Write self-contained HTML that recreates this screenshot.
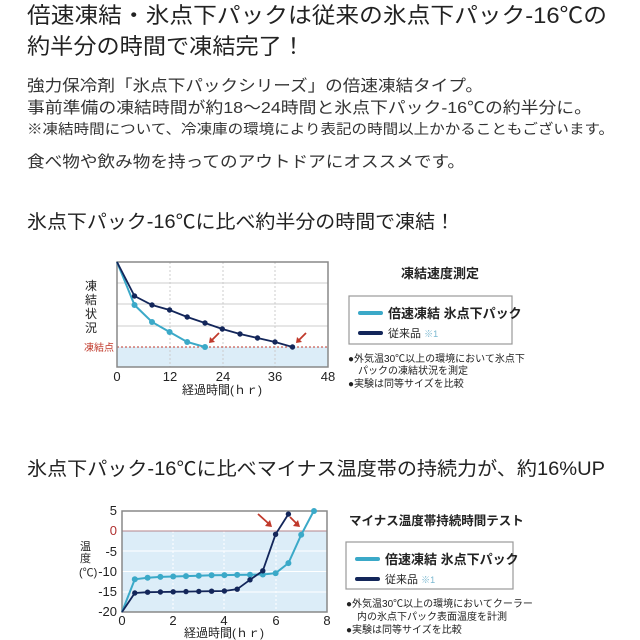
<!DOCTYPE html>
<html><head><meta charset="utf-8"><style>
html,body{margin:0;padding:0;background:#fff;}
svg{display:block;}
text{font-family:"Liberation Sans","Noto Sans CJK JP",sans-serif;}
</style></head><body>
<svg width="640" height="640" viewBox="0 0 640 640" xmlns="http://www.w3.org/2000/svg">
<g fill="#222">
<text x="27" y="23" font-size="22" textLength="580" lengthAdjust="spacingAndGlyphs">倍速凍結・氷点下パックは従来の氷点下パック-16℃の</text>
<text x="27" y="54" font-size="22" textLength="278" lengthAdjust="spacingAndGlyphs">約半分の時間で凍結完了！</text>
<g fill="#333">
<text x="27" y="91" font-size="16" textLength="456" lengthAdjust="spacingAndGlyphs">強力保冷剤「氷点下パックシリーズ」の倍速凍結タイプ。</text>
<text x="27" y="113" font-size="16" textLength="565" lengthAdjust="spacingAndGlyphs">事前準備の凍結時間が約18〜24時間と氷点下パック-16℃の約半分に。</text>
<text x="27" y="134" font-size="14" textLength="587" lengthAdjust="spacingAndGlyphs">※凍結時間について、冷凍庫の環境により表記の時間以上かかることもございます。</text>
<text x="27" y="167" font-size="16" textLength="438" lengthAdjust="spacingAndGlyphs">食べ物や飲み物を持ってのアウトドアにオススメです。</text>
</g>
<text x="27" y="228" font-size="19" textLength="428" lengthAdjust="spacingAndGlyphs">氷点下パック-16℃に比べ約半分の時間で凍結！</text>
<text x="27" y="475" font-size="19" textLength="578" lengthAdjust="spacingAndGlyphs">氷点下パック-16℃に比べマイナス温度帯の持続力が、約16%UP</text>
</g>

<!-- Chart 1 -->
<rect x="117" y="347" width="211" height="20" fill="#dcedf8"/>
<g stroke="#ccc" stroke-width="1" stroke-dasharray="2,2">
<line x1="170" y1="262" x2="170" y2="367"/><line x1="223" y1="262" x2="223" y2="367"/><line x1="275" y1="262" x2="275" y2="367"/>
</g>
<g stroke="#ccc" stroke-width="1">
<line x1="117" y1="283" x2="328" y2="283"/><line x1="117" y1="304" x2="328" y2="304"/><line x1="117" y1="326" x2="328" y2="326"/>
</g>
<line x1="117" y1="347" x2="328" y2="347" stroke="#c0392b" stroke-width="1" stroke-dasharray="2,2"/>
<rect x="117" y="262" width="211" height="105" fill="none" stroke="#888" stroke-width="1.5"/>
<polyline fill="none" stroke="#3ba9c8" stroke-width="2" points="117,262 134.5,305 152,322 169.6,332 187.2,342 205,347"/>
<g fill="#3ba9c8"><circle cx="134.5" cy="305" r="3"/><circle cx="152" cy="322" r="3"/><circle cx="169.6" cy="332" r="3"/><circle cx="187.2" cy="342" r="3"/><circle cx="205" cy="347" r="3"/></g>
<polyline fill="none" stroke="#13265a" stroke-width="1.8" points="117,262 134.5,296 152,305 169.6,310 187.2,317 205,323 222.3,329 240,334 257.5,338 275,342 292.5,347"/>
<g fill="#13265a"><circle cx="134.5" cy="296" r="2.7"/><circle cx="152" cy="305" r="2.7"/><circle cx="169.6" cy="310" r="2.7"/><circle cx="187.2" cy="317" r="2.7"/><circle cx="205" cy="323" r="2.7"/><circle cx="222.3" cy="329" r="2.7"/><circle cx="240" cy="334" r="2.7"/><circle cx="257.5" cy="338" r="2.7"/><circle cx="275" cy="342" r="2.7"/><circle cx="292.5" cy="347" r="2.7"/></g>
<g stroke="#c0392b" stroke-width="1.8" fill="#c0392b">
<line x1="219" y1="333" x2="212" y2="340"/><polygon points="209,343 210,337 215,342" stroke="none"/>
<line x1="306" y1="333" x2="299" y2="340"/><polygon points="296,343 297,337 302,342" stroke="none"/>
</g>
<g font-size="12" fill="#222">
<text x="85" y="290">凍</text><text x="85" y="304">結</text><text x="85" y="318">状</text><text x="85" y="332">況</text>
</g>
<text x="84" y="351" font-size="10" fill="#c0392b">凍結点</text>
<g font-size="13" fill="#222" text-anchor="middle">
<text x="117" y="381">0</text><text x="170" y="381">12</text><text x="223" y="381">24</text><text x="275" y="381">36</text><text x="328" y="381">48</text>
<text x="222" y="394" font-size="12">経過時間(ｈｒ)</text>
</g>
<text x="401" y="278" font-size="13" font-weight="bold" fill="#222">凍結速度測定</text>
<rect x="349" y="296" width="163" height="48" fill="#fff" stroke="#999" stroke-width="1.2"/>
<line x1="360" y1="313" x2="381" y2="313" stroke="#3ba9c8" stroke-width="4" stroke-linecap="round"/>
<text x="388" y="318" font-size="13" font-weight="bold" fill="#222">倍速凍結 氷点下パック</text>
<line x1="360" y1="333" x2="381" y2="333" stroke="#13265a" stroke-width="4" stroke-linecap="round"/>
<text x="388" y="337" font-size="11" fill="#222">従来品 <tspan fill="#7ab8d0" font-size="9">※1</tspan></text>
<g font-size="10" fill="#222">
<text x="348" y="362">●外気温30℃以上の環境において氷点下</text>
<text x="358" y="374">パックの凍結状況を測定</text>
<text x="348" y="387">●実験は同等サイズを比較</text>
</g>

<!-- Chart 2 -->
<rect x="122" y="531" width="205" height="81" fill="#dcedf8"/>
<g stroke="#fff" stroke-width="1">
<line x1="122" y1="551" x2="327" y2="551"/><line x1="122" y1="571.5" x2="327" y2="571.5"/><line x1="122" y1="592" x2="327" y2="592"/>
</g>
<g stroke="#fff" stroke-width="1" stroke-dasharray="2,2">
<line x1="173" y1="511" x2="173" y2="612"/><line x1="224" y1="511" x2="224" y2="612"/><line x1="276" y1="511" x2="276" y2="612"/>
</g>
<line x1="122" y1="531" x2="327" y2="531" stroke="#b5838a" stroke-width="1"/>
<rect x="122" y="511" width="205" height="101" fill="none" stroke="#888" stroke-width="1.5"/>
<polyline fill="none" stroke="#3ba9c8" stroke-width="2" points="122,612 134.8,579.3 147.6,577.7 160.4,576.9 173.2,576.5 186,576.1 198.8,575.7 211.6,575.3 224.4,575.1 237.2,574.9 250,574.7 262.8,574.5 275.6,573.2 288.4,563.1 301.2,534.8 314,510.5"/>
<g fill="#3ba9c8"><circle cx="134.8" cy="579.3" r="3"/><circle cx="147.6" cy="577.7" r="3"/><circle cx="160.4" cy="576.9" r="3"/><circle cx="173.2" cy="576.5" r="3"/><circle cx="186" cy="576.1" r="3"/><circle cx="198.8" cy="575.7" r="3"/><circle cx="211.6" cy="575.3" r="3"/><circle cx="224.4" cy="575.1" r="3"/><circle cx="237.2" cy="574.9" r="3"/><circle cx="250" cy="574.7" r="3"/><circle cx="262.8" cy="574.5" r="3"/><circle cx="275.6" cy="573.2" r="3"/><circle cx="288.4" cy="563.1" r="3"/><circle cx="301.2" cy="534.8" r="3"/><circle cx="314" cy="511" r="3"/></g>
<polyline fill="none" stroke="#13265a" stroke-width="1.8" points="122,612 134.8,593 147.6,592.2 160.4,592 173.2,591.8 186,591.6 198.8,591.4 211.6,591.2 224.4,591 237.2,589.2 250,579.8 262.8,570.8 275.6,534.3 288.4,514.1"/>
<g fill="#13265a"><circle cx="134.8" cy="593" r="2.7"/><circle cx="147.6" cy="592.2" r="2.7"/><circle cx="160.4" cy="592" r="2.7"/><circle cx="173.2" cy="591.8" r="2.7"/><circle cx="186" cy="591.6" r="2.7"/><circle cx="198.8" cy="591.4" r="2.7"/><circle cx="211.6" cy="591.2" r="2.7"/><circle cx="224.4" cy="591" r="2.7"/><circle cx="237.2" cy="589.2" r="2.7"/><circle cx="250" cy="579.8" r="2.7"/><circle cx="262.8" cy="570.8" r="2.7"/><circle cx="275.6" cy="534.3" r="2.7"/><circle cx="288.4" cy="514.1" r="2.7"/></g>
<g stroke="#c0392b" stroke-width="1.8" fill="#c0392b">
<line x1="258" y1="514" x2="268" y2="523"/><polygon points="272,527 265,526 270,520" stroke="none"/>
<line x1="290" y1="517" x2="296" y2="523"/><polygon points="300,527 293,526 298,520" stroke="none"/>
</g>
<g font-size="13" fill="#222" text-anchor="end">
<text x="117" y="515">5</text><text x="117" y="535" fill="#b03030">0</text><text x="117" y="556">-5</text><text x="117" y="576">-10</text><text x="117" y="596">-15</text><text x="117" y="616">-20</text>
</g>
<g font-size="11" fill="#222"><text x="80" y="550">温</text><text x="80" y="562">度</text><text x="79" y="576">(℃)</text></g>
<g font-size="13" fill="#222" text-anchor="middle">
<text x="122" y="625">0</text><text x="173" y="625">2</text><text x="224" y="625">4</text><text x="276" y="625">6</text><text x="327" y="625">8</text>
<text x="224" y="637" font-size="12">経過時間(ｈｒ)</text>
</g>
<text x="349" y="525" font-size="12.5" font-weight="bold" fill="#222">マイナス温度帯持続時間テスト</text>
<rect x="346" y="542" width="167" height="47" fill="#fff" stroke="#999" stroke-width="1.2"/>
<line x1="357" y1="559" x2="378" y2="559" stroke="#3ba9c8" stroke-width="4" stroke-linecap="round"/>
<text x="385" y="564" font-size="13" font-weight="bold" fill="#222">倍速凍結 氷点下パック</text>
<line x1="357" y1="579" x2="378" y2="579" stroke="#13265a" stroke-width="4" stroke-linecap="round"/>
<text x="385" y="583" font-size="11" fill="#222">従来品 <tspan fill="#7ab8d0" font-size="9">※1</tspan></text>
<g font-size="10" fill="#222">
<text x="346" y="607">●外気温30℃以上の環境においてクーラー</text>
<text x="357" y="620">内の氷点下パック表面温度を計測</text>
<text x="346" y="633">●実験は同等サイズを比較</text>
</g>
</svg>
</body></html>
